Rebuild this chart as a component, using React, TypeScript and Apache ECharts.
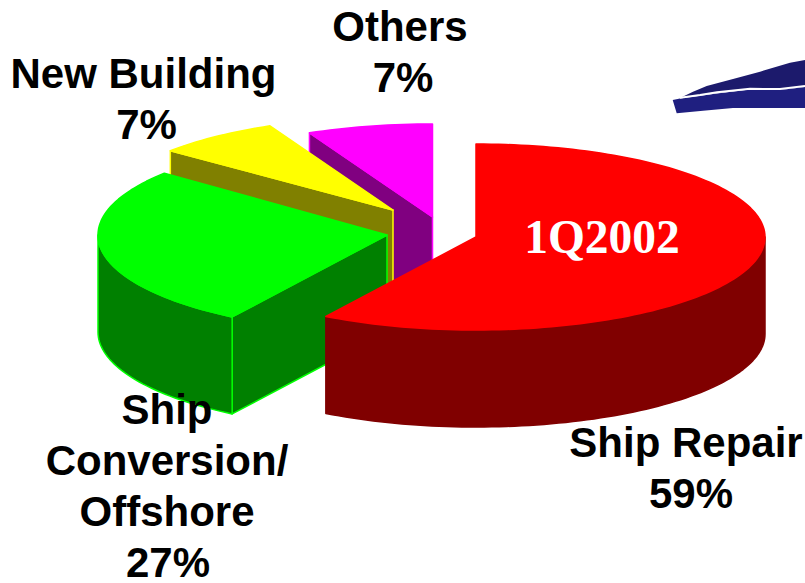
import React, { useEffect, useRef } from "react";
import * as echarts from "echarts";

const categories = ["Ship Repair", "Ship\nConversion/\nOffshore", "New Building", "Others"];
const shares = [59, 27, 7, 7];
const periodLabel = "1Q2002";

const topColors = ["#ff0000", "#00ff00", "#ffff00", "#ff00ff"];
const wallColors = ["#800000", "#008000", "#808000", "#800080"];
const wallStrokes = ["#800000", "#00ff00", "#ffff00", "#ff00ff"];
const apexes = [[476, 237], [387, 235], [393, 210], [432.5, 217]];
const radiiY = [93, 97, 93, 93];
const endTrim = [1.1, 0, 0, 0];
const labelFirstLine = [[686, 442], [167, 409], [143.5, 73], [400, 26]];
const percentShift = [5, 1, 3, 3];

const RX = 289;
const DEPTH = 97;
const LINE_STEP = 51;
const FONT = '"Liberation Sans", Arial, sans-serif';

const total = shares.reduce((a, b) => a + b, 0);
const startShare = (i: number) => shares.slice(0, i).reduce((a, b) => a + b, 0);

function rim(c: number[], ry: number, t: number, drop = 0) {
  const r = (t * Math.PI) / 180;
  return [c[0] + RX * Math.sin(r), c[1] - ry * Math.cos(r) + drop];
}
function arcPts(c: number[], ry: number, a: number, b: number, drop = 0) {
  const pts: number[][] = [];
  const n = Math.max(2, Math.ceil(Math.abs(b - a) / 1.5));
  for (let k = 0; k <= n; k++) pts.push(rim(c, ry, a + ((b - a) * k) / n, drop));
  return pts;
}

function renderSlice(_params: any, api: any) {
  const v = api.value(0);
  const i = api.value(1);
  const t0 = (startShare(i) / total) * 360;
  const t1 = t0 + (v / total) * 360 - endTrim[i];
  const c = apexes[i];
  const ry = radiiY[i];
  const wall = { fill: wallColors[i], stroke: wallStrokes[i], lineWidth: 1.5, lineJoin: "round" };
  const top = { fill: topColors[i], stroke: topColors[i], lineWidth: 1.5, lineJoin: "round" };
  const children: any[] = [];
  if (i !== 0) {
    children.push({
      type: "polygon",
      shape: { points: [c, rim(c, ry, t0), rim(c, ry, t0, DEPTH), [c[0], c[1] + DEPTH]] },
      style: wall,
    });
  }
  const a = Math.max(t0, 90);
  const b = Math.min(t1, 270);
  if (b > a) {
    children.push({
      type: "polygon",
      shape: { points: [...arcPts(c, ry, a, b), ...arcPts(c, ry, b, a, DEPTH)] },
      style: wall,
    });
  }
  children.push({
    type: "polygon",
    shape: { points: [c, ...arcPts(c, ry, t0, t1)] },
    style: top,
  });
  return { type: "group", children };
}

const labelGraphics = categories.flatMap((name, i) => {
  const lines = `${name}\n${shares[i]}%`.split("\n");
  return lines.map((line, k) => ({
    type: "text",
    x: labelFirstLine[i][0] + (k === lines.length - 1 ? percentShift[i] : 0),
    y: labelFirstLine[i][1] + k * LINE_STEP,
    z: 20,
    style: {
      text: line,
      fill: "#000000",
      font: `bold 42px ${FONT}`,
      lineHeight: 36,
      align: "center",
      verticalAlign: "middle",
    },
  }));
});

const upperWing = [[680, 98], [693, 91.7], [706.7, 86], [733, 79], [760, 71.7], [790, 62.7], [805, 60], [805, 87], [780, 90], [750, 89], [717, 93]];
const lowerWing = [[672.7, 100], [680, 98.5], [717, 93.5], [750, 89.5], [780, 90], [805, 87], [805, 108], [773, 108], [733, 108], [703, 110.7], [676.7, 113.3]];
const wingLine = [[680, 97.8], [700, 95], [717, 92.2], [750, 88.8], [780, 89], [805, 86]];

export default function App() {
  const ref = useRef<HTMLDivElement>(null);
  useEffect(() => {
    document.body.style.margin = "0";
    const chart = echarts.init(ref.current!, undefined, { renderer: "svg" });
    // painted from back to front: Others, New Building, Conversion, Repair
    const order = shares.map((_, i) => i).reverse();
    chart.setOption({
      animation: false,
      backgroundColor: "#ffffff",
      series: [
        {
          type: "custom",
          coordinateSystem: "none",
          silent: true,
          clip: false,
          renderItem: renderSlice,
          data: order.map((i) => ({ value: [shares[i], i], name: categories[i] })),
        },
      ],
      graphic: [
        { type: "polygon", z: 5, shape: { points: upperWing }, style: { fill: "#1c1a6c" } },
        { type: "polygon", z: 5, shape: { points: lowerWing }, style: { fill: "#1f1f80" } },
        { type: "polyline", z: 6, shape: { points: wingLine }, style: { stroke: "#ffffff", lineWidth: 2, fill: "none" } },
        ...labelGraphics,
        {
          type: "text",
          x: 602,
          y: 237,
          z: 20,
          style: {
            text: periodLabel,
            fill: "#ffffff",
            font: 'bold 47.5px "Liberation Serif", "Times New Roman", serif',
            align: "center",
            verticalAlign: "middle",
          },
        },
      ],
    });
    return () => chart.dispose();
  }, []);
  return <div ref={ref} style={{ width: 805, height: 583 }} />;
}
